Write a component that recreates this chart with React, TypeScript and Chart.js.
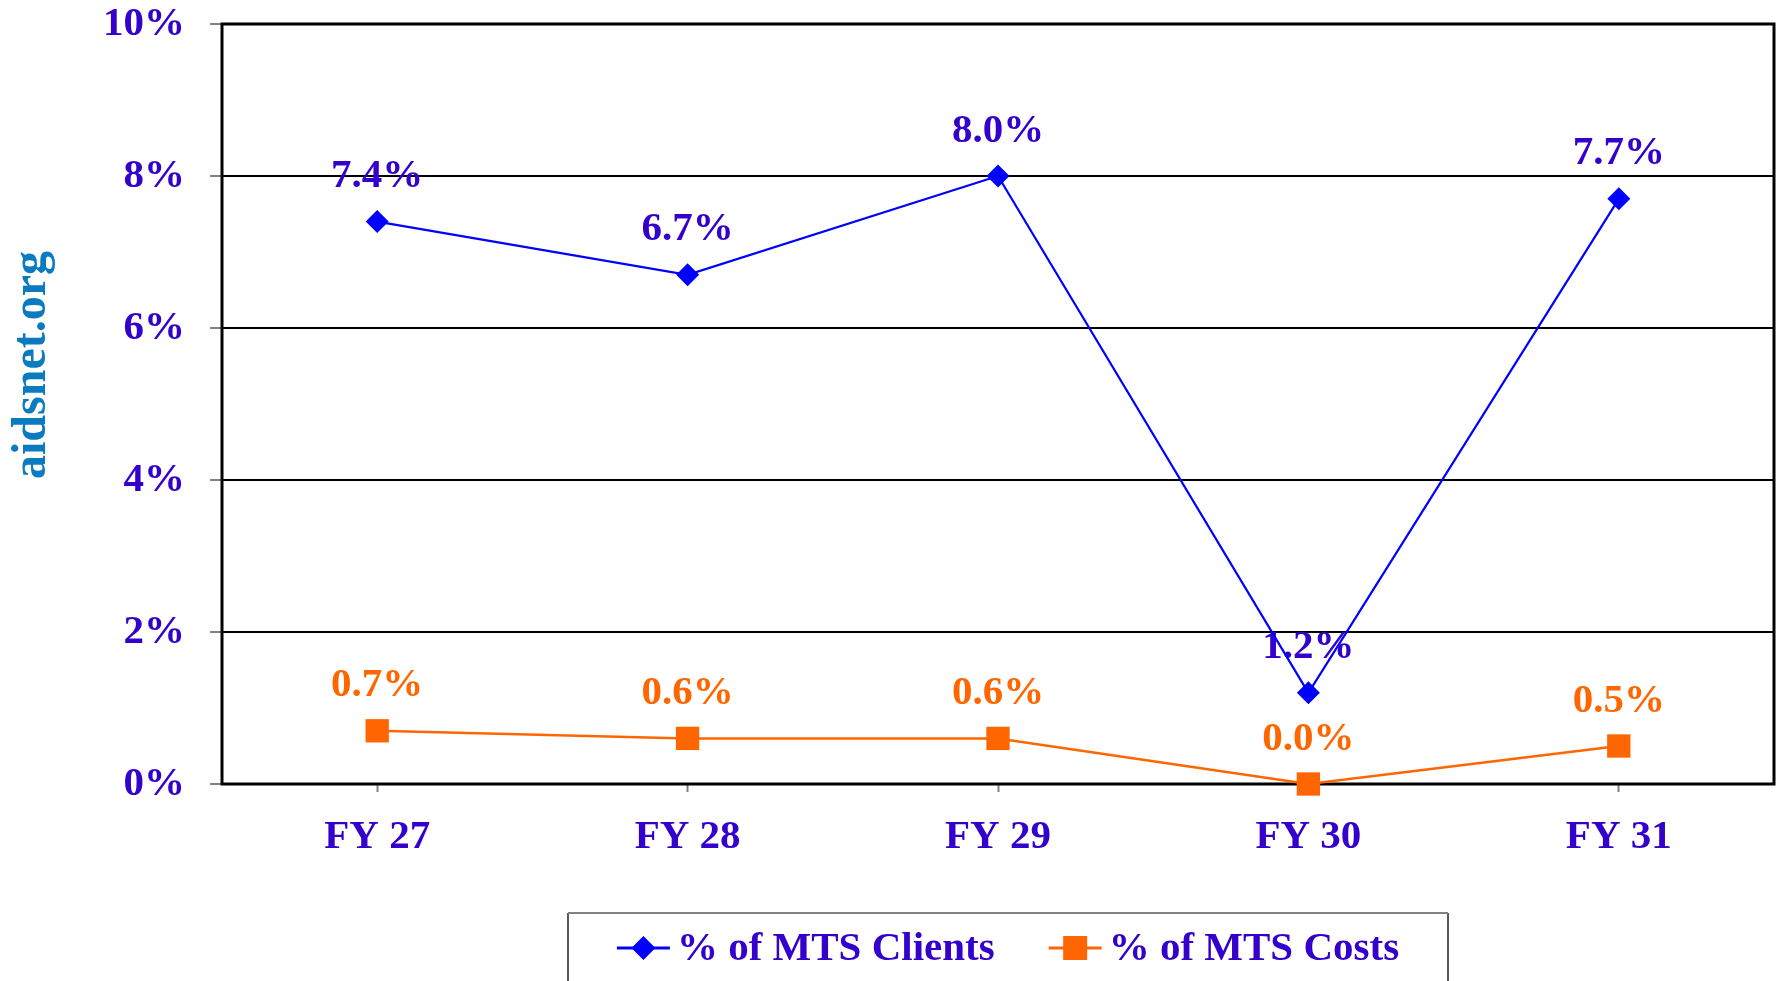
import React, { useEffect, useRef } from 'react';
import { Chart, registerables } from 'chart.js';

Chart.register(...registerables);

// ---- data ----
const categories = ['FY 27', 'FY 28', 'FY 29', 'FY 30', 'FY 31'];
const clientsPct = [7.4, 6.7, 8.0, 1.2, 7.7];
const costsPct = [0.7, 0.6, 0.6, 0.0, 0.5];
const yTickValues = [0, 2, 4, 6, 8, 10];
const seriesNames = ['% of MTS Clients', '% of MTS Costs'];
const watermarkText = 'aidsnet.org';

// ---- style ----
const FONT_FAMILY = "'Liberation Serif', 'Times New Roman', serif";
const TEXT_COLOR = '#3300CC';
const BLUE = '#0000FF';
const ORANGE = '#FF6600';
const WATERMARK_COLOR = '#0B7BC1';

const customPlugin = {
  id: 'customDecor',
  beforeDatasetsDraw(chart: any) {
    const { ctx, chartArea: a } = chart;
    ctx.save();
    ctx.strokeStyle = '#000000';
    ctx.lineWidth = 3;
    ctx.strokeRect(a.left, a.top, a.right - a.left, a.bottom - a.top);
    ctx.restore();

    // data labels (drawn under the lines, as in the reference)
    chart.data.datasets.forEach((ds: any, i: number) => {
      const meta = chart.getDatasetMeta(i);
      ctx.save();
      ctx.font = `bold 41px ${FONT_FAMILY}`;
      ctx.fillStyle = ds.labelColor;
      ctx.textAlign = 'center';
      ctx.textBaseline = 'middle';
      meta.data.forEach((pt: any, j: number) => {
        const v = ds.data[j] as number;
        ctx.fillText(v.toFixed(1) + '%', pt.x, pt.y - 45);
      });
      ctx.restore();
    });
  },
  afterDraw(chart: any) {
    const { ctx } = chart;
    // watermark
    ctx.save();
    ctx.translate(45, 365);
    ctx.rotate(-Math.PI / 2);
    ctx.font = `bold 48px ${FONT_FAMILY}`;
    ctx.fillStyle = WATERMARK_COLOR;
    ctx.textAlign = 'center';
    ctx.textBaseline = 'alphabetic';
    ctx.fillText(watermarkText, 0, 0);
    ctx.restore();

    // legend box
    const boxL = 568;
    const boxR = 1448;
    const boxT = 913;
    const boxB = 1000;
    ctx.save();
    ctx.strokeStyle = '#222222';
    ctx.lineWidth = 1.5;
    ctx.beginPath();
    ctx.moveTo(boxL, boxB);
    ctx.lineTo(boxL, boxT);
    ctx.moveTo(boxR, boxT);
    ctx.lineTo(boxR, boxB);
    ctx.stroke();
    ctx.strokeStyle = '#808080';
    ctx.lineWidth = 2;
    ctx.beginPath();
    ctx.moveTo(boxL, boxT);
    ctx.lineTo(boxR, boxT);
    ctx.stroke();

    ctx.font = `bold 41px ${FONT_FAMILY}`;
    const markerW = 53;
    const gap = 7;
    const itemSpacing = 54;
    const widths = chart.data.datasets.map((ds: any) => ctx.measureText(ds.label).width);
    const total = widths.reduce((s: number, w: number) => s + markerW + gap + w, 0) + itemSpacing * (widths.length - 1);
    let x = (boxL + boxR) / 2 - total / 2;
    const cy = 948;
    chart.data.datasets.forEach((ds: any, i: number) => {
      ctx.strokeStyle = ds.borderColor;
      ctx.lineWidth = 3;
      ctx.beginPath();
      ctx.moveTo(x, cy);
      ctx.lineTo(x + markerW, cy);
      ctx.stroke();
      const mx = x + markerW / 2;
      ctx.fillStyle = ds.pointBackgroundColor;
      ctx.beginPath();
      if (ds.pointStyle === 'rectRot') {
        ctx.moveTo(mx, cy - 12);
        ctx.lineTo(mx + 12, cy);
        ctx.lineTo(mx, cy + 12);
        ctx.lineTo(mx - 12, cy);
        ctx.closePath();
      } else {
        ctx.rect(mx - 12, cy - 12, 24, 24);
      }
      ctx.fill();
      ctx.fillStyle = TEXT_COLOR;
      ctx.textAlign = 'left';
      ctx.textBaseline = 'middle';
      ctx.fillText(ds.label, x + markerW + gap, cy + 1);
      x += markerW + gap + widths[i] + itemSpacing;
    });
    ctx.restore();
  },
};

export default function App() {
  const canvasRef = useRef<HTMLCanvasElement | null>(null);

  useEffect(() => {
    document.body.style.margin = '0';
    document.body.style.overflow = 'hidden';
    const canvas = canvasRef.current;
    if (!canvas) return;
    const chart = new Chart(canvas, {
      type: 'line',
      data: {
        labels: categories,
        datasets: [
          {
            label: seriesNames[0],
            data: clientsPct,
            borderColor: BLUE,
            backgroundColor: BLUE,
            borderWidth: 2.2,
            pointStyle: 'rectRot',
            pointRadius: 11.5,
            pointHoverRadius: 11.5,
            pointBackgroundColor: BLUE,
            pointBorderColor: BLUE,
            pointBorderWidth: 0,
            tension: 0,
            clip: false,
            labelColor: TEXT_COLOR,
          } as any,
          {
            label: seriesNames[1],
            data: costsPct,
            borderColor: ORANGE,
            backgroundColor: ORANGE,
            borderWidth: 2.5,
            pointStyle: 'rect',
            pointRadius: 16.5,
            pointHoverRadius: 16.5,
            pointBackgroundColor: ORANGE,
            pointBorderColor: ORANGE,
            pointBorderWidth: 0,
            tension: 0,
            clip: false,
            labelColor: ORANGE,
          } as any,
        ],
      },
      options: {
        animation: false,
        responsive: false,
        maintainAspectRatio: false,
        events: [],
        layout: { autoPadding: false, padding: { top: 24, left: 0, right: 3, bottom: 0 } },
        plugins: {
          legend: { display: false },
          tooltip: { enabled: false },
          title: { display: false },
        },
        scales: {
          x: {
            type: 'category',
            offset: true,
            grid: {
              display: true,
              drawOnChartArea: false,
              drawTicks: true,
              tickLength: 8,
              tickColor: '#808080',
              tickWidth: 2,
            },
            border: { display: false },
            ticks: {
              color: TEXT_COLOR,
              font: { family: FONT_FAMILY, size: 41, weight: 'bold' },
              padding: 21,
              maxRotation: 0,
              autoSkip: false,
            },
            afterFit(scale: any) {
              scale.height = 981 - 784;
              scale.paddingLeft = 0;
              scale.paddingRight = 0;
            },
          },
          y: {
            type: 'linear',
            min: 0,
            max: 10,
            afterBuildTicks(scale: any) {
              scale.ticks = yTickValues.map((v) => ({ value: v }));
            },
            grid: {
              color: '#000000',
              lineWidth: 2,
              drawTicks: true,
              tickLength: 12,
              tickColor: '#808080',
              tickWidth: 2,
            },
            border: { display: false },
            ticks: {
              color: TEXT_COLOR,
              font: { family: FONT_FAMILY, size: 41, weight: 'bold' },
              padding: 25,
              callback: (v: any) => `${v}%`,
            },
            afterFit(scale: any) {
              scale.width = 222;
              scale.paddingTop = 0;
              scale.paddingBottom = 0;
            },
          },
        },
      },
      plugins: [customPlugin],
    });
    return () => chart.destroy();
  }, []);

  return (
    <div style={{ width: 1777, height: 981, position: 'relative', background: '#ffffff' }}>
      <canvas ref={canvasRef} width={1777} height={981} style={{ display: 'block', width: 1777, height: 981 }} />
    </div>
  );
}
